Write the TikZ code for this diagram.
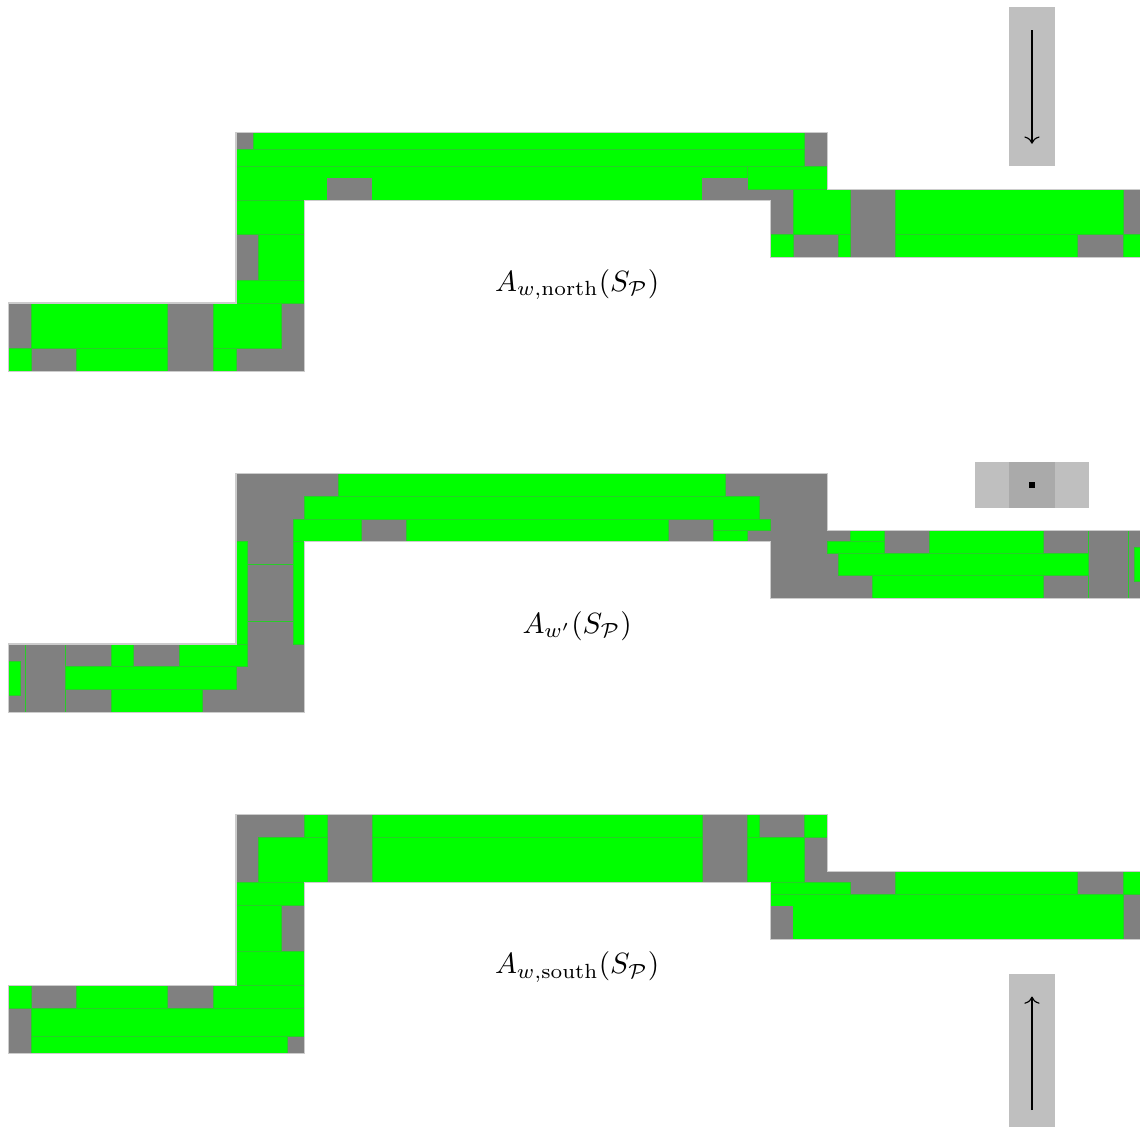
\documentclass[tikz,border=0pt]{standalone}
\usepackage{amsmath,amssymb}
\usepackage{tikz}
\usetikzlibrary{
  arrows.meta,
  calc,
  positioning
}

\definecolor{tilegreen}{RGB}{0,255,0}
\definecolor{tileedge}{RGB}{40,205,40}
\definecolor{gapgrey}{RGB}{128,128,128}
\definecolor{boxgrey}{RGB}{191,191,191}
\definecolor{midgrey}{RGB}{170,170,170}

\begin{document}
\begin{tikzpicture}[x=0.273cm,y=-0.273cm,
  tile/.style={fill=tilegreen,draw=tileedge,line width=0.25pt},
  gap/.style={fill=gapgrey},
  ghost/.style={draw=tileedge,line width=0.25pt},
  rim/.style={draw=gray!40,line width=0.4pt},
  signal/.style={fill=boxgrey}]
  \useasboundingbox (-0.38,-5.82) rectangle (49.75,43.7);
  \clip (-0.38,-5.82) rectangle (49.75,43.7);
  % grey background of the three assemblies
  \foreach \dy in {0,15,30}
    \fill[gap] (0,7.5+\dy) -- (10,7.5+\dy) -- (10,\dy) -- (36,\dy) -- (36,2.5+\dy)
      -- (50,2.5+\dy) -- (50,5.5+\dy) -- (33.5,5.5+\dy) -- (33.5,3+\dy)
      -- (13,3+\dy) -- (13,10.5+\dy) -- (0,10.5+\dy) -- cycle;

  % north
  \begin{scope}
    \fill[tile] (10.75,0) rectangle (35,0.75);
    \fill[tile] (10,0.75) rectangle (35,1.5);
    \fill[tile] (10,1.5) rectangle (32.5,3);
    \fill[tile] (32.5,1.5) rectangle (36,2.5);
    \fill[gap] (14,2) rectangle (16,3);
    \fill[gap] (30.5,2) rectangle (32.5,3);
    \fill[tile] (10,3) rectangle (13,4.5);
    \fill[tile] (11,4.5) rectangle (13,6.5);
    \fill[tile] (10,6.5) rectangle (13,7.5);
    \fill[tile] (1,7.5) rectangle (7,9.5);
    \fill[tile] (9,7.5) rectangle (12,9.5);
    \fill[tile] (0,9.5) rectangle (1,10.5);
    \fill[tile] (3,9.5) rectangle (7,10.5);
    \fill[tile] (9,9.5) rectangle (10,10.5);
    \fill[tile] (34.5,2.5) rectangle (37,4.5);
    \fill[tile] (39,2.5) rectangle (49,4.5);
    \fill[tile] (33.5,4.5) rectangle (34.5,5.5);
    \fill[tile] (36.5,4.5) rectangle (37,5.5);
    \fill[tile] (39,4.5) rectangle (47,5.5);
    \fill[tile] (49,4.5) rectangle (50,5.5);
    \node (northlabel) at (25,6.7) {$A_{w,\mathrm{north}}(S_{\mathcal{P}})$};
  \end{scope}

  % w'
  \begin{scope}[shift={(0,15)}]
    \fill[tile] (14.5,0) rectangle (31.5,1);
    \fill[tile] (13,1) rectangle (33,2);
    \fill[tile] (12.5,2) rectangle (15.5,3);
    \fill[tile] (17.5,2) rectangle (29,3);
    \fill[tile] (31,2) rectangle (33.5,2.5);
    \fill[tile] (31,2.5) rectangle (32.5,3);
    \draw[ghost] (10,4) rectangle (13,6.5);
    \fill[tile] (12.5,3) rectangle (13,7.5);
    \fill[tile] (10,3) rectangle (10.5,7.5);
    \fill[tile] (0,8.25) rectangle (0.5,9.75);
    \draw[ghost] (0.75,7.5) rectangle (2.5,10.5);
    \fill[tile] (4.5,7.5) rectangle (5.5,8.5);
    \fill[tile] (7.5,7.5) rectangle (10.5,8.5);
    \fill[tile] (2.5,8.5) rectangle (10,9.5);
    \fill[tile] (4.5,9.5) rectangle (8.5,10.5);
    \fill[tile] (37,2.5) rectangle (38.5,3);
    \fill[tile] (36,3) rectangle (38.5,3.5);
    \fill[tile] (40.5,2.5) rectangle (45.5,3.5);
    \fill[tile] (36.5,3.5) rectangle (47.5,4.5);
    \fill[tile] (38,4.5) rectangle (45.5,5.5);
    \draw[ghost] (47.5,2.5) rectangle (49.25,5.5);
    \fill[tile] (49.5,3.25) rectangle (50,4.75);
    \node (wlabel) at (25,6.7) {$A_{w'}(S_{\mathcal{P}})$};
  \end{scope}

  % south
  \begin{scope}[shift={(0,30)}]
    \fill[tile] (13,0) rectangle (14,1);
    \fill[tile] (11,1) rectangle (14,3);
    \fill[tile] (16,0) rectangle (30.5,1);
    \fill[tile] (16,1) rectangle (30.5,3);
    \fill[tile] (32.5,0) rectangle (33,1);
    \fill[tile] (35,0) rectangle (36,1);
    \fill[tile] (32.5,1) rectangle (35,3);
    \fill[tile] (10,3) rectangle (13,4);
    \fill[tile] (10,4) rectangle (12,6);
    \fill[tile] (10,6) rectangle (13,7.5);
    \fill[tile] (0,7.5) rectangle (1,8.5);
    \fill[tile] (3,7.5) rectangle (7,8.5);
    \fill[tile] (9,7.5) rectangle (13,8.5);
    \fill[tile] (1,8.5) rectangle (13,9.75);
    \fill[tile] (1,9.75) rectangle (12.25,10.5);
    \fill[tile] (39,2.5) rectangle (47,3.5);
    \fill[tile] (49,2.5) rectangle (50,3.5);
    \fill[tile] (33.5,3) rectangle (37,3.5);
    \fill[tile] (33.5,3.5) rectangle (49,5.5);
    \fill[gap] (33.5,4) rectangle (34.5,5.5);
    \node (southlabel) at (25,6.7) {$A_{w,\mathrm{south}}(S_{\mathcal{P}})$};
  \end{scope}

  \foreach \dy in {0,15,30}
    \draw[rim] (0,7.5+\dy) -- (10,7.5+\dy) -- (10,\dy) -- (36,\dy) -- (36,2.5+\dy)
      -- (50,2.5+\dy) -- (50,5.5+\dy) -- (33.5,5.5+\dy) -- (33.5,3+\dy)
      -- (13,3+\dy) -- (13,10.5+\dy) -- (0,10.5+\dy) -- cycle;

  % direction boxes
  \fill[signal] (44,-5.5) rectangle (46,1.5);
  \coordinate (downtop) at (45,-4.5);
  \coordinate (downbot) at (45,0.5);
  \draw[->] (downtop) -- (downbot);

  \fill[signal] (42.5,14.5) rectangle (47.5,16.5);
  \fill[midgrey] (44,14.5) rectangle (46,16.5);
  \fill[black] (44.87,15.37) rectangle (45.13,15.63);

  \fill[signal] (44,37) rectangle (46,44);
  \coordinate (upbot) at (45,43);
  \coordinate (uptop) at (45,38);
  \draw[->] (upbot) -- (uptop);
\end{tikzpicture}
\end{document}
